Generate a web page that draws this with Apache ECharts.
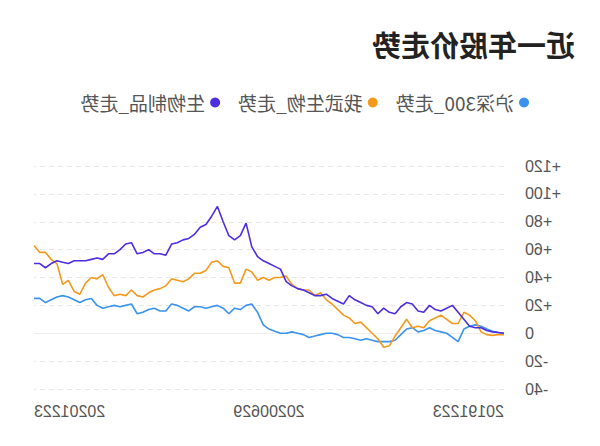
<!DOCTYPE html>
<html>
<head>
<meta charset="utf-8">
<script src="https://cdn.jsdelivr.net/npm/echarts@6/dist/echarts.min.js"></script>
<style>
html,body{margin:0;padding:0;background:#fff;}
#chart{width:600px;height:446px;transform:scaleX(-1);transform-origin:50% 50%;}
</style>
</head>
<body>
<div id="chart"></div>
<script>
// Market holidays (no trading) in the period
const holidays = ['20200101','20200124','20200127','20200128','20200129','20200130','20200131',
  '20200406','20200501','20200504','20200505','20200625','20200626',
  '20201001','20201002','20201005','20201006','20201007','20201008'];
const startDate = '20191223';
const endDate = '20201223';

// Series values (% change), sampled roughly every third trading day
const hs300 = [0,0.5,1.5,3,5,6,5,3,-6,-3,0,1,2,4,2,1,4,3,-1,-5,-6,-6,-6,-5,-4,-5,-4,-3,-3,-1,0,0,-1,-2,-3,-1,0,1,0,0,1.5,3,6,15,21,20,17,18,14,18,20,19,18,19,19,16,18,20,21,16,16,18,17,15,14,21,20,19,20,19,18,20,25,24,22,24,26,27,26,24,22,25,25];
const wowu = [-1,-1,-1.5,-1,1,9,13,15,7,7,10,13,11,9,4,5,4,10,4,-2,-9,-10,-4,0,4,8,7,11,13,17,21,24,29,27,31,31,32,35,41,40,40,38,40,38,44,46,36,36,47,48,52,51,45,43,43,39,37,38,39,34,32,31,29,26,27,31,27,28,27,33,42,39,40,36,28,30,38,35,50,53,58,58,63];
const shengwu = [0,0.5,1,2,4,4,5,10,15,20,18,16,17,20,15,16,21,22,19,14,15,18,14,19,20,22,24,27,21,23,25,28,27,27,29,31,32,34,37,46,48,50,52,55,62,79,70,67,70,80,91,84,78,76,71,68,67,65,64,56,57,57,60,58,57,65,64,60,57,57,53,54,53,52,52,52,50,51,52,50,47,50,50];
const seriesNames = ['沪深300_走势','我武生物_走势','生物制品_走势'];
const yTicks = [-40,-20,0,20,40,60,80,100,120];

function fmt(d){
  const m = d.getUTCMonth()+1, day = d.getUTCDate();
  return d.getUTCFullYear() + (m<10?'0':'') + m + (day<10?'0':'') + day;
}
function parse(s){ return new Date(Date.UTC(+s.slice(0,4), +s.slice(4,6)-1, +s.slice(6,8))); }
const tradingDays = [];
for (let d = parse(startDate); d <= parse(endDate); d = new Date(d.getTime()+86400000)) {
  const wd = d.getUTCDay();
  const s = fmt(d);
  if (wd !== 0 && wd !== 6 && holidays.indexOf(s) < 0) tradingDays.push(s);
}
const idx = [];
for (let i = 0; i <= 120; i += 3) idx.push(i);
for (let i = 122; i <= 242; i += 3) idx.push(i);
idx.push(tradingDays.length - 1);
const categories = idx.map(i => tradingDays[i]);
const last = categories.length - 1;
const mid = Math.round(last / 2);

const chart = echarts.init(document.getElementById('chart'), null, {renderer: 'svg'});
const colors = ['#3b93ee','#f39a1e','#4b2fe0'];
chart.setOption({
  animation: false,
  color: colors,
  title: {
    text: '近一年股价走势', left: 20, top: 24,
    textStyle: {fontSize: 29, fontWeight: 'bold', color: '#222', fontFamily: 'Noto Sans CJK SC'}
  },
  legend: {
    data: seriesNames, left: 66, top: 88, icon: 'circle', itemWidth: 10, itemHeight: 10, itemGap: 18,
    textStyle: {fontSize: 19, color: '#555', fontFamily: 'Noto Sans CJK SC'}
  },
  grid: {left: 96, right: 34, top: 166, bottom: 57},
  xAxis: {
    type: 'category', data: categories, boundaryGap: false,
    axisLine: {show: true, lineStyle: {color: '#eeeeee'}},
    axisTick: {show: false},
    axisLabel: {
      interval: (i) => i === 0 || i === mid || i === last,
      showMinLabel: true, showMaxLabel: true,
      alignMinLabel: 'left', alignMaxLabel: 'right',
      margin: 14, fontSize: 16, color: '#555', fontFamily: 'Liberation Sans'
    },
    splitLine: {show: false}
  },
  yAxis: {
    type: 'value', min: yTicks[0], max: yTicks[yTicks.length-1], interval: 20,
    axisLine: {show: false}, axisTick: {show: false},
    axisLabel: {
      margin: 21, fontSize: 16, color: '#555', fontFamily: 'Liberation Sans',
      formatter: v => v > 0 ? '+' + v : String(v)
    },
    splitLine: {lineStyle: {type: [5, 4], color: '#e6e6e6'}}
  },
  series: [
    {name: seriesNames[0], type: 'line', data: hs300, symbol: 'none', lineStyle: {width: 1.6}},
    {name: seriesNames[1], type: 'line', data: wowu, symbol: 'none', lineStyle: {width: 1.6}},
    {name: seriesNames[2], type: 'line', data: shengwu, symbol: 'none', lineStyle: {width: 1.6}}
  ]
});
</script>
</body>
</html>
